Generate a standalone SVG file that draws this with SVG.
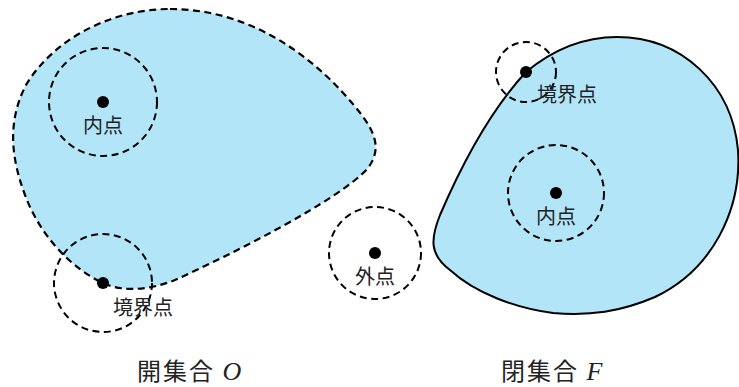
<svg xmlns="http://www.w3.org/2000/svg" width="739" height="387" viewBox="0 0 739 387">
<style>
.region{fill:#b3e5f8;}
.open{stroke:#000;stroke-width:2.2;stroke-dasharray:7 4.5;}
.closed{stroke:#000;stroke-width:2;}
.nb{fill:none;stroke:#000;stroke-width:2;stroke-dasharray:7 4.5;}
.dot{fill:#000;}
.lbl{font-family:"Noto Sans CJK JP","Noto Sans CJK SC",sans-serif;font-size:20px;fill:#222;}
.cap{font-family:"Noto Sans CJK JP","Noto Sans CJK SC",sans-serif;font-size:24px;fill:#222;}
.var{font-family:"Liberation Serif",serif;font-style:italic;font-size:26px;}
</style>
<rect width="739" height="387" fill="#fff"/>
<g id="open-set">
<path class="region open" d="M 170,9 C 240,9 300,45 345,95 C 372,125 385,145 368,168 C 340,200 230,255 175,280 C 150,290 125,292 105,284 C 70,268 40,235 25,195 C 10,155 8,120 26,85 C 53,40 110,9 170,9 Z"/>
</g>
<g id="closed-set">
<path class="region closed" d="M 617,37 C 682,37 732,85 738,150 C 742,210 712,270 655,297 C 620,312 590,316 553,313 C 515,308 475,293 450,270 C 430,255 430,240 440,215 C 470,145 500,100 526,72 C 555,48 585,37 617,37 Z"/>
</g>
<g id="open-interior">
<circle class="nb" cx="103" cy="102" r="54"/>
<circle class="dot" cx="103" cy="102" r="6"/>
<text class="lbl" x="103" y="133" text-anchor="middle">内点</text>
</g>
<g id="open-boundary">
<circle class="nb" cx="103" cy="283" r="49"/>
<circle class="dot" cx="103" cy="283" r="6"/>
<text class="lbl" x="113" y="315">境界点</text>
</g>
<g id="exterior">
<circle class="nb" cx="375" cy="253" r="46"/>
<circle class="dot" cx="375" cy="253" r="6"/>
<text class="lbl" x="375" y="284" text-anchor="middle">外点</text>
</g>
<g id="closed-boundary">
<circle class="nb" cx="526" cy="72" r="30"/>
<circle class="dot" cx="526" cy="72" r="6"/>
<text class="lbl" x="537" y="102">境界点</text>
</g>
<g id="closed-interior">
<circle class="nb" cx="556" cy="193" r="48"/>
<circle class="dot" cx="556" cy="193" r="6"/>
<text class="lbl" x="556" y="224" text-anchor="middle">内点</text>
</g>
<g id="captions">
<text class="cap" x="137" y="380" letter-spacing="2">開集合 <tspan class="var">O</tspan></text>
<text class="cap" x="501" y="380" letter-spacing="2">閉集合 <tspan class="var">F</tspan></text>
</g>
</svg>
